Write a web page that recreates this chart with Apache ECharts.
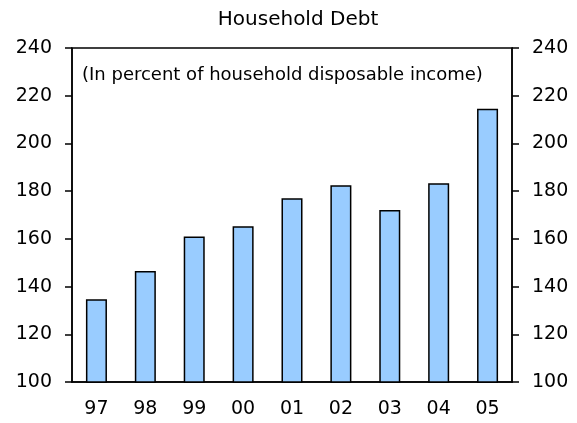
<!DOCTYPE html>
<html>
<head>
<meta charset="utf-8">
<script src="https://cdn.jsdelivr.net/npm/echarts@6/dist/echarts.min.js"></script>
<style>
	html, body { margin: 0; padding: 0; background: #fff; }
	#main { width: 577px; height: 423px; }
</style>
</head>
<body>
<div id="main"></div>
<script>
// chart data
const years = ["97", "98", "99", "00", "01", "02", "03", "04", "05"];
const debtRatio = [134.7, 146.5, 161, 165.3, 177, 182.5, 172.1, 183.3, 214.5];
const axisMin = 100;
const axisMax = 240;
const axisStep = 20;

const chart = echarts.init(document.getElementById("main"));

const fontFamily = "DejaVu Sans, Verdana, sans-serif";

const valueAxis = (position) => ({
	type: "value",
	position: position,
	min: axisMin,
	max: axisMax,
	interval: axisStep,
	axisLine: { show: true, lineStyle: { color: "#000", width: 1.5 } },
	axisTick: { show: true, inside: false, length: 7, lineStyle: { color: "#000", width: 1.5 } },
	axisLabel: { color: "#000", fontSize: 19, fontFamily: fontFamily, margin: 20 },
	splitLine: { show: false },
});

const option = {
	animation: false,
	title: [
		{
			text: "Household Debt",
			left: 293,
			top: 5,
			textAlign: "center",
			textStyle: { color: "#000", fontSize: 20, fontWeight: "normal", fontFamily: fontFamily },
		},
		{
			text: "(In percent of household disposable income)",
			left: 77,
			top: 61,
			textStyle: { color: "#000", fontSize: 18, fontWeight: "normal", fontFamily: fontFamily },
		},
	],
	grid: {
		left: 72,
		right: 65,
		top: 48,
		bottom: 41,
		show: true,
		borderColor: "#000",
		borderWidth: 1.5,
	},
	xAxis: {
		type: "category",
		data: years,
		axisLine: { show: true, lineStyle: { color: "#000", width: 1.5 } },
		axisTick: { show: false },
		axisLabel: { color: "#000", fontSize: 19, fontFamily: fontFamily, margin: 18 },
	},
	yAxis: [valueAxis("left"), valueAxis("right")],
	series: [
		{
			type: "bar",
			data: debtRatio,
			barWidth: "43%",
			itemStyle: { color: "#99CCFF", borderColor: "#000", borderWidth: 1.5 },
		},
	],
};

chart.setOption(option);
</script>
</body>
</html>
